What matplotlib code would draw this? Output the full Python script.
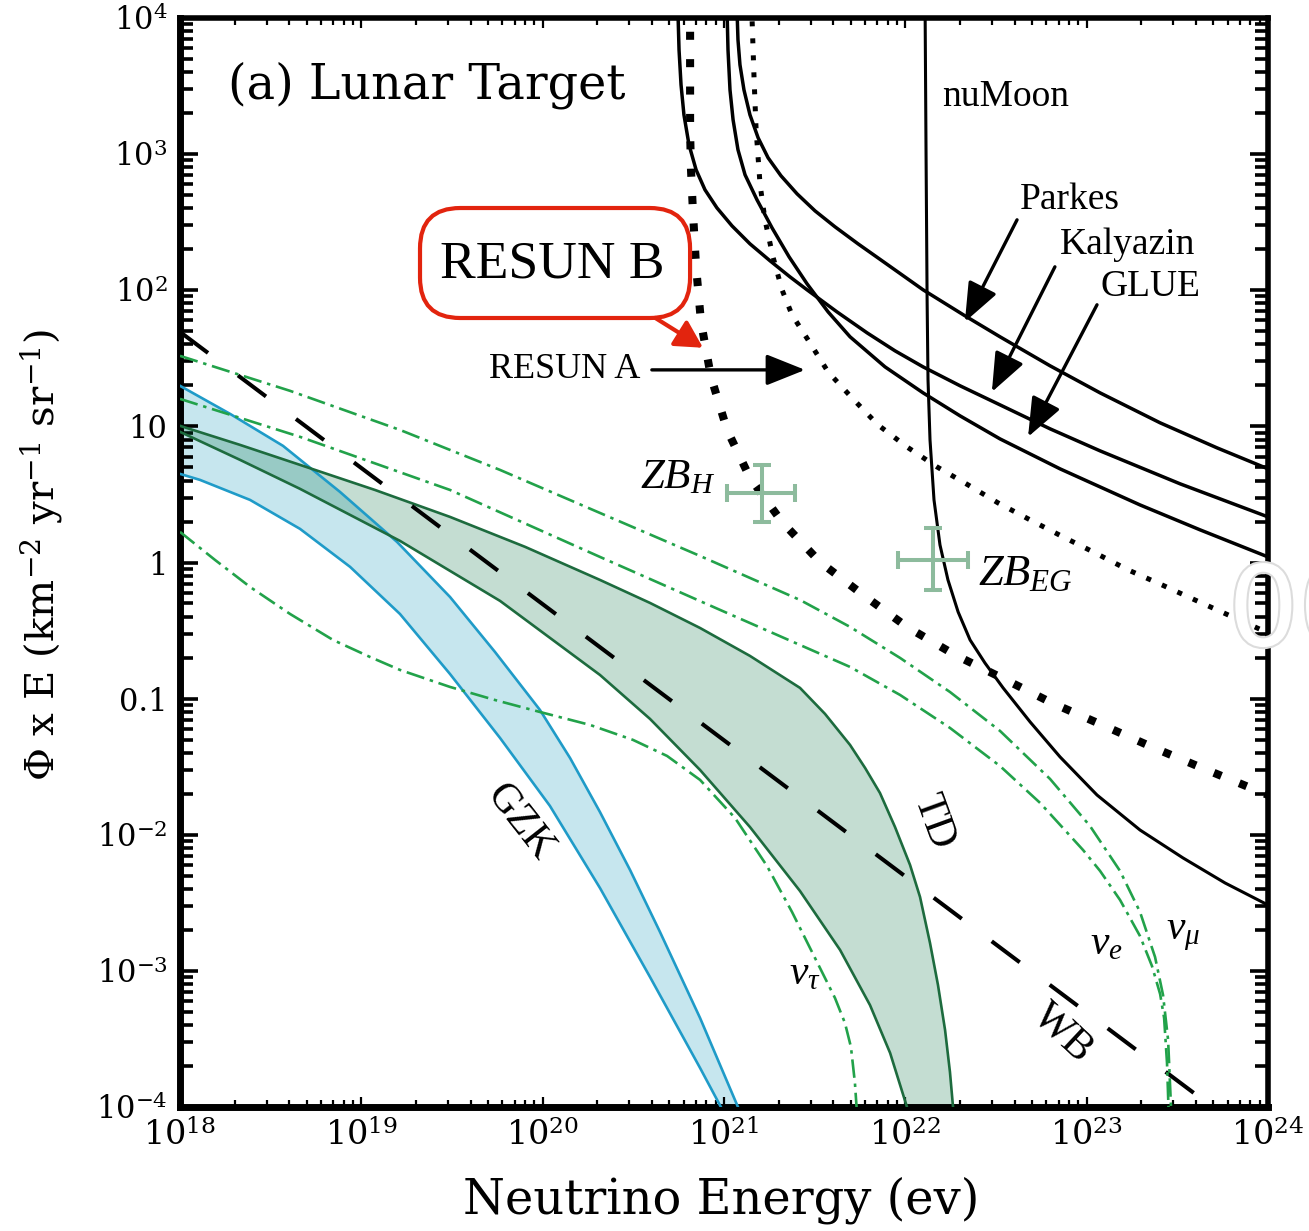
import numpy as np
import matplotlib.pyplot as plt
import matplotlib.patheffects as pe
from matplotlib.patches import FancyBboxPatch
from matplotlib.ticker import FixedLocator, FixedFormatter, NullFormatter

plt.rcParams['font.family'] = 'DejaVu Serif'
plt.rcParams['mathtext.fontset'] = 'custom'
plt.rcParams['mathtext.rm'] = 'DejaVu Serif'
plt.rcParams['mathtext.it'] = 'Liberation Serif:italic'

ANNOT = 'Liberation Serif'

# every curve is stored as log10(E / eV) and log10(flux x E)
gzk_hi_logE = [18.0, 18.276, 18.568, 18.882, 19.197, 19.489, 19.737, 19.985, 20.151, 20.316, 20.482,
               20.647, 20.868, 21.077]
gzk_hi_logF = [1.298, 1.092, 0.857, 0.519, 0.151, -0.253, -0.657, -1.083, -1.436, -1.833, -2.259,
               -2.714, -3.346, -4.0]
gzk_lo_logE = [18.0, 18.110, 18.386, 18.662, 18.938, 19.213, 19.489, 19.765, 20.040, 20.316, 20.592,
               20.868, 20.983]
gzk_lo_logF = [0.651, 0.607, 0.460, 0.247, -0.032, -0.378, -0.819, -1.289, -1.788, -2.391, -3.045,
               -3.713, -4.0]

td_hi_logE = [18.0, 18.331, 18.662, 19.075, 19.489, 19.903, 20.316, 20.592, 20.868, 21.143, 21.419,
              21.557, 21.695, 21.778, 21.860, 21.943, 22.026, 22.081, 22.136, 22.180, 22.219, 22.246, 22.263]
td_hi_logF = [1.004, 0.864, 0.717, 0.533, 0.335, 0.115, -0.128, -0.297, -0.481, -0.686, -0.921,
              -1.112, -1.340, -1.509, -1.693, -1.943, -2.222, -2.457, -2.795, -3.104, -3.434, -3.743, -4.0]
td_lo_logE = [18.0, 18.331, 18.662, 19.213, 19.765, 20.316, 20.592, 20.868, 21.143, 21.419, 21.640,
              21.805, 21.916, 22.009]
td_lo_logF = [0.960, 0.754, 0.541, 0.159, -0.282, -0.826, -1.149, -1.524, -1.943, -2.413, -2.846,
              -3.251, -3.603, -4.0]

wb_logE = [18.0, 24.0]
wb_logF = [1.694, -4.306]

numu_logE = [18.0, 18.607, 19.213, 19.765, 20.316, 20.868, 21.419, 21.695, 21.971, 22.246, 22.522,
             22.798, 23.018, 23.184, 23.294, 23.377, 23.421, 23.449, 23.465]
numu_logF = [1.518, 1.261, 0.974, 0.680, 0.364, 0.048, -0.275, -0.473, -0.701, -0.951, -1.237,
             -1.590, -1.935, -2.266, -2.567, -2.898, -3.177, -3.508, -4.0]
nue_logE = [18.0, 18.662, 19.489, 20.316, 20.978, 21.695, 21.971, 22.246, 22.522, 22.743, 22.980,
            23.074, 23.184, 23.294, 23.360, 23.405, 23.427, 23.443, 23.451]
nue_logF = [1.202, 0.923, 0.533, 0.041, -0.348, -0.767, -0.973, -1.215, -1.495, -1.766, -2.112,
            -2.266, -2.479, -2.744, -2.964, -3.170, -3.346, -3.677, -4.0]
nutau_logE = [18.0, 18.193, 18.386, 18.607, 18.844, 19.048, 19.213, 19.489, 19.737, 19.985, 20.261,
              20.498, 20.686, 20.868, 21.061, 21.237, 21.375, 21.513, 21.612, 21.667, 21.700, 21.722, 21.731]
nutau_logF = [0.225, 0.019, -0.179, -0.378, -0.569, -0.694, -0.789, -0.914, -1.010, -1.098, -1.193,
              -1.303, -1.421, -1.597, -1.877, -2.229, -2.567, -2.935, -3.199, -3.383, -3.559, -3.824, -4.0]

resunb_logE = [20.813, 20.813, 20.818, 20.829, 20.846, 20.873, 20.928, 21.017, 21.143, 21.320, 21.529,
               21.767, 22.009, 22.274, 22.533, 22.809, 23.085, 23.360, 23.636, 24.0]
resunb_logF = [4.1, 3.164, 2.885, 2.569, 2.172, 1.768, 1.364, 0.974, 0.622, 0.298, 0.004,
               -0.238, -0.473, -0.679, -0.848, -1.032, -1.193, -1.355, -1.509, -1.708]
resuna_logE = [21.152, 21.166, 21.177, 21.199, 21.226, 21.270, 21.320, 21.375, 21.463, 21.574, 21.706,
               21.849, 22.009, 22.175, 22.346, 22.511, 22.688, 22.870, 23.046, 23.228, 23.416,
               23.597, 23.780, 24.0]
resuna_logF = [4.1, 3.546, 3.179, 2.774, 2.517, 2.245, 2.003, 1.819, 1.636, 1.400, 1.209,
               1.011, 0.849, 0.702, 0.570, 0.438, 0.313, 0.188, 0.071, -0.054, -0.165,
               -0.275, -0.385, -0.517]

parkes_logE = [21.072, 21.077, 21.088, 21.110, 21.143, 21.188, 21.243, 21.314, 21.403, 21.502, 21.612,
               21.739, 21.888, 22.098, 22.329, 22.522, 22.798, 23.074, 23.405, 23.719, 24.0]
parkes_logF = [4.046, 3.840, 3.656, 3.472, 3.289, 3.120, 2.973, 2.841, 2.708, 2.583, 2.466,
               2.341, 2.201, 2.003, 1.812, 1.658, 1.445, 1.246, 1.026, 0.842, 0.688]
kalyazin_logE = [20.746, 20.752, 20.763, 20.779, 20.807, 20.846, 20.895, 20.961, 21.044, 21.143, 21.254,
                 21.364, 21.458, 21.623, 21.789, 21.943, 22.098, 22.302, 22.522, 22.798, 23.074, 23.515, 24.0]
kalyazin_logF = [4.046, 3.766, 3.509, 3.289, 3.068, 2.885, 2.738, 2.605, 2.473, 2.341, 2.216,
                 2.098, 2.003, 1.841, 1.687, 1.555, 1.437, 1.298, 1.158, 0.982, 0.820, 0.578, 0.335]
glue_logE = [21.017, 21.022, 21.033, 21.050, 21.077, 21.116, 21.182, 21.265, 21.359, 21.458, 21.574,
             21.695, 21.888, 22.098, 22.302, 22.522, 22.853, 23.294, 23.625, 24.0]
glue_logF = [4.046, 3.766, 3.472, 3.252, 3.032, 2.848, 2.664, 2.458, 2.245, 2.047, 1.841,
             1.658, 1.437, 1.246, 1.077, 0.908, 0.688, 0.423, 0.240, 0.041]
numoon_logE = [22.109, 22.114, 22.120, 22.125, 22.136, 22.158, 22.191, 22.235, 22.291, 22.357, 22.439,
               22.539, 22.688, 22.853, 23.057, 23.294, 23.531, 23.763, 24.0]
numoon_logF = [4.046, 3.032, 1.929, 1.342, 0.901, 0.460, 0.129, -0.128, -0.363, -0.569, -0.738,
               -0.921, -1.171, -1.428, -1.708, -1.965, -2.170, -2.354, -2.516]

# Z-burst points: energy, flux, and their ranges
zb_E = [1.62e21, 1.42e22]
zb_F = [3.24, 1.045]
zb_E_lo = [1.04e21, 9.1e21]
zb_E_hi = [2.47e21, 2.22e22]
zb_F_lo = [1.99, 0.63]
zb_F_hi = [5.21, 1.80]

x_ticks = [1e18, 1e19, 1e20, 1e21, 1e22, 1e23, 1e24]
x_ticklabels = ['10$^{18}$', '10$^{19}$', '10$^{20}$', '10$^{21}$', '10$^{22}$', '10$^{23}$', '10$^{24}$']
y_ticks = [1e-4, 1e-3, 1e-2, 1e-1, 1, 10, 1e2, 1e3, 1e4]
y_ticklabels = ['10$^{-4}$', '10$^{-3}$', '10$^{-2}$', '0.1', '1', '10', '10$^{2}$', '10$^{3}$', '10$^{4}$']


def curve(lx, ly):
    return 10.0 ** np.asarray(lx), 10.0 ** np.asarray(ly)


fig = plt.figure(figsize=(13.09, 12.31), dpi=100)
ax = fig.add_axes([0.1375, 0.1007, 0.8312, 0.8847])
ax.set_xscale('log')
ax.set_yscale('log')

# model bands
gx1, gy1 = curve(gzk_hi_logE, gzk_hi_logF)
gx2, gy2 = curve(gzk_lo_logE, gzk_lo_logF)
ax.fill(np.r_[gx1, gx2[::-1]], np.r_[gy1, gy2[::-1]], color='#c6e6ee', lw=0, zorder=1)
ax.plot(gx1, gy1, color='#1f9bc8', lw=1.9, zorder=3)
ax.plot(gx2, gy2, color='#1f9bc8', lw=1.9, zorder=3)

tx1, ty1 = curve(td_hi_logE, td_hi_logF)
tx2, ty2 = curve(td_lo_logE, td_lo_logF)
ax.fill(np.r_[tx1, tx2[::-1]], np.r_[ty1, ty2[::-1]], color=(0.0, 0.43, 0.24), alpha=0.23, lw=0, zorder=2)
ax.plot(tx1, ty1, color='#1d6b3e', lw=1.9, zorder=3)
ax.plot(tx2, ty2, color='#1d6b3e', lw=1.9, zorder=3)

# Waxman-Bahcall bound
ax.plot(*curve(wb_logE, wb_logF), color='black', lw=2.9, dashes=(8.7, 9.3), zorder=4)

# flavour fluxes
for lx, ly in [(numu_logE, numu_logF), (nue_logE, nue_logF), (nutau_logE, nutau_logF)]:
    ax.plot(*curve(lx, ly), color='#22a24a', lw=1.9, dashes=(7.0, 2.2, 1.3, 2.2), zorder=4)

# experimental limits
ax.plot(*curve(resunb_logE, resunb_logF), color='black', lw=5.8, dashes=(1.0, 2.4),
        dash_capstyle='butt', zorder=5)
ax.plot(*curve(resuna_logE, resuna_logF), color='black', lw=3.6, dashes=(1.0, 2.4),
        dash_capstyle='butt', zorder=5)
for lx, ly in [(parkes_logE, parkes_logF), (kalyazin_logE, kalyazin_logF), (glue_logE, glue_logF)]:
    ax.plot(*curve(lx, ly), color='black', lw=2.5, zorder=5)
ax.plot(*curve(numoon_logE, numoon_logF), color='black', lw=2.2, zorder=5)

# Z-burst estimates
zE = np.array(zb_E)
zF = np.array(zb_F)
xerr = [zE - np.array(zb_E_lo), np.array(zb_E_hi) - zE]
yerr = [zF - np.array(zb_F_lo), np.array(zb_F_hi) - zF]
ax.errorbar(zE, zF, xerr=xerr, yerr=yerr, fmt='none', ecolor='#8dbb9d', elinewidth=2.9,
            capsize=6.8, capthick=2.9, zorder=6)

ax.set_xlim(1e18, 1e24)
ax.set_ylim(1e-4, 1e4)

# ticks
ax.xaxis.set_major_locator(FixedLocator(x_ticks))
ax.xaxis.set_major_formatter(FixedFormatter(x_ticklabels))
ax.yaxis.set_major_locator(FixedLocator(y_ticks))
ax.yaxis.set_major_formatter(FixedFormatter(y_ticklabels))
minor_x = [m * 10.0 ** d for d in range(18, 24) for m in range(2, 10)]
minor_y = [m * 10.0 ** d for d in range(-4, 4) for m in range(2, 10)]
ax.xaxis.set_minor_locator(FixedLocator(minor_x))
ax.yaxis.set_minor_locator(FixedLocator(minor_y))
ax.xaxis.set_minor_formatter(NullFormatter())
ax.yaxis.set_minor_formatter(NullFormatter())
ax.tick_params(axis='x', which='major', direction='in', length=7.5, width=1.6, top=True, bottom=True,
               labelsize=24, pad=9)
ax.tick_params(axis='x', which='minor', direction='in', length=5, width=1.6, top=True, bottom=True)
ax.tick_params(axis='y', which='major', direction='in', length=13, width=2.6, left=True, right=True,
               labelsize=22, pad=9)
ax.tick_params(axis='y', which='minor', direction='in', length=9.5, width=2.6, left=True, right=True)

for side, w in [('left', 5.0), ('bottom', 5.0), ('top', 4.0), ('right', 4.0)]:
    ax.spines[side].set_linewidth(w)

# labels
fig.text(721 / 1309, 1 - 1200 / 1231, 'Neutrino Energy (ev)', fontsize=34.5, ha='center', va='center')
fig.text(42 / 1309, 1 - 555 / 1231, 'Φ x E (km$^{-2}$ yr$^{-1}$ sr$^{-1}$)', fontsize=29,
         rotation=90, ha='center', va='center')
ax.text(0.044, 0.9385, '(a) Lunar Target', transform=ax.transAxes, fontsize=34.3, ha='left', va='center')

ax.add_patch(FancyBboxPatch((0.2206, 0.7245), 0.2482, 0.1010, boxstyle='round,pad=0,rounding_size=0.037',
                            transform=ax.transAxes, fc='white', ec='#e2240e', lw=3.0, zorder=7))
ax.text(0.3419, 0.7732, 'RESUN B', transform=ax.transAxes, family=ANNOT, fontsize=38.5,
        ha='center', va='center', zorder=8)
ax.annotate('', xy=(7.66e20, 37.8), xytext=(4.17e20, 62.7),
            arrowprops=dict(arrowstyle='-|>,head_length=0.55,head_width=0.3', color='#e2240e', lw=3.0,
                            mutation_scale=30, shrinkA=0, shrinkB=0), zorder=7)

ax.text(3.44e20, 26.0, 'RESUN A', family=ANNOT, fontsize=26, ha='right', va='center')
ax.annotate('', xy=(2.8e21, 26.0), xytext=(4.0e20, 26.0),
            arrowprops=dict(arrowstyle='-|>,head_length=0.6,head_width=0.24', color='black', lw=2.4,
                            mutation_scale=40, shrinkA=0, shrinkB=0))

ax.text(1.59e22, 2636, 'nuMoon', family=ANNOT, fontsize=27, ha='left', va='center')
ax.text(4.29e22, 461, 'Parkes', family=ANNOT, fontsize=27, ha='left', va='center')
ax.text(7.13e22, 216, 'Kalyazin', family=ANNOT, fontsize=27, ha='left', va='center')
ax.text(1.19e23, 106, 'GLUE', family=ANNOT, fontsize=27, ha='left', va='center')
for start, tip in [((4.13e22, 329), (2.13e22, 58.6)), ((6.68e22, 148.6), (3.0e22, 17.9)),
                   ((1.14e23, 78.2), (4.75e22, 8.38))]:
    ax.annotate('', xy=tip, xytext=start,
                arrowprops=dict(arrowstyle='-|>,head_length=0.6,head_width=0.24', color='black', lw=2.4,
                                mutation_scale=40, shrinkA=0, shrinkB=0))

ax.text(3.44e20, 3.53, '$ZB_H$', fontsize=31, ha='left', va='baseline')
ax.text(2.52e22, 0.684, '$ZB_{EG}$', fontsize=32, ha='left', va='baseline')

ax.text(7.5e19, 0.0124, 'GZK', family=ANNOT, fontsize=30, rotation=-52, ha='center', va='center')
ax.text(1.42e22, 0.0124, 'TD', family=ANNOT, fontsize=30, rotation=-70, ha='center', va='center')
ax.text(7.41e22, 3.5e-4, 'WB', family=ANNOT, fontsize=30, rotation=-43, ha='center', va='center')
ax.text(2.8e21, 9.8e-4, r'$\nu_\tau$', fontsize=30, ha='center', va='center')
ax.text(1.29e23, 1.63e-3, r'$\nu_e$', fontsize=30, ha='center', va='center')
ax.text(3.4e23, 1.93e-3, r'$\nu_\mu$', fontsize=30, ha='center', va='center')

# faint overlay digits at the right edge
fig.text(1228 / 1309, 1 - 615 / 1231, '00', family='DejaVu Sans', fontsize=80, color='white',
         ha='left', va='center', zorder=10,
         path_effects=[pe.withStroke(linewidth=3, foreground='#dcdcdc')])

fig.savefig('out.png', dpi=100)
